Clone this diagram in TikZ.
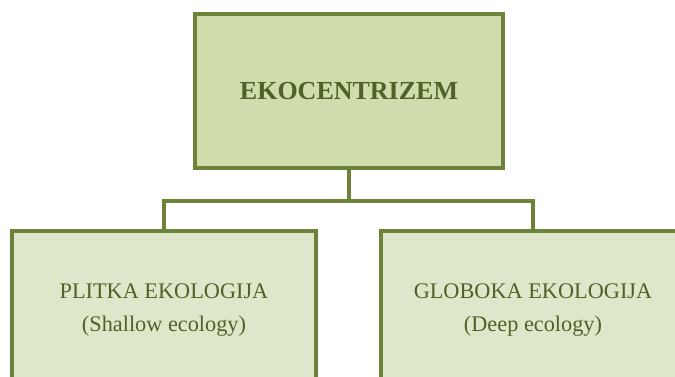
\documentclass[tikz,border=0pt]{standalone}
\usepackage{fontspec}
\setmainfont{Liberation Serif}
\usetikzlibrary{positioning}
\definecolor{olivedraw}{HTML}{6C8339}
\definecolor{olivetext}{HTML}{4F6228}
\definecolor{topfill}{HTML}{CFDCAB}
\definecolor{subfill}{HTML}{DFE7CA}

\begin{document}
\begin{tikzpicture}[x=1pt,y=-1pt,line width=4pt,
  main node/.style={rectangle,draw=olivedraw,fill=topfill,text=olivetext,
    minimum width=308pt,minimum height=154pt,font=\fontsize{26}{30}\selectfont\bfseries},
  sub node/.style={rectangle,draw=olivedraw,fill=subfill,text=olivetext,align=center,
    minimum width=304pt,minimum height=158pt,font=\fontsize{22.3}{33}\selectfont}]
  \useasboundingbox (0,0) rectangle (675,376);
  \clip (0,0) rectangle (675,376);

  \node[main node] (eko) at (349,91) {EKOCENTRIZEM};
  \node[sub node] (plitka) at (164,310) {PLITKA EKOLOGIJA\\(Shallow ecology)};
  \node[sub node] (globoka) at (533,310) {GLOBOKA EKOLOGIJA\\(Deep ecology)};

  \draw[olivedraw] (eko.south) -- ++(0,31) coordinate (split) -| (plitka.north);
  \draw[olivedraw] (split) -| (globoka.north);
\end{tikzpicture}
\end{document}
